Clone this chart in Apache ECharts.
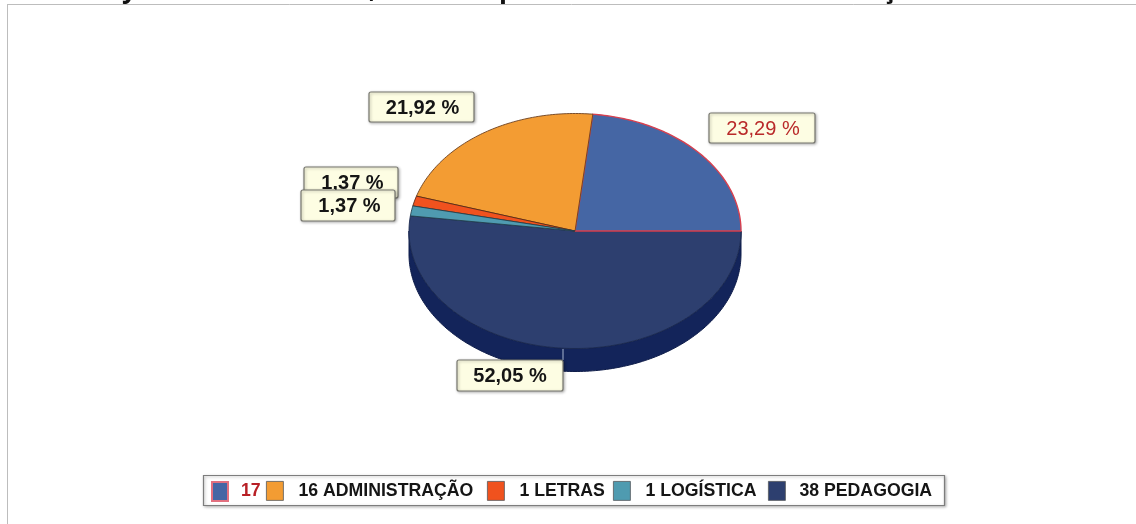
<!DOCTYPE html>
<html><head><meta charset="utf-8">
<style>html,body{margin:0;padding:0;background:#fff}#c{width:1136px;height:524px}</style>
<script src="https://cdn.jsdelivr.net/npm/echarts@6/dist/echarts.min.js"></script>
</head><body><div id="c"></div>
<script>
// Data
const categories = ['17', '16 ADMINISTRAÇÃO', '1 LETRAS', '1 LOGÍSTICA', '38 PEDAGOGIA'];
const counts = [17, 16, 1, 1, 38];
const percentLabels = ['23,29 %', '21,92 %', '1,37 %', '1,37 %', '52,05 %'];
const colors = ['#4566a4', '#f39c33', '#f0521e', '#4f9bb0', '#2d3f6f'];
const edgeColors = ['#d8404f', '#6b4020', '#5a2a15', '#24424f', '#1c2a50'];
const titleTails = ['y', ',', 'p', 'ç'];

// Layout (separate from the data)
const cx = 575, cy = 231, rx = 166, ry = 117.5, depth = 23;
const labelBoxes = [[709,113,106,30],[369,92,105,30],[304,167,94,31],[301,190,94,31],[457,360,106,31]];
const labelShift = [1, 1, 1.5, 1.5, 0];
const legendLefts = [211, 266, 487, 613, 768];
const legendPad = [8, 10, 10, 10, 9];
const tailLefts = [122, 369, 499, 882];
const labelFont = ['400','700','700','700','700'];
const labelColor = ['#b92a2a','#151515','#151515','#151515','#151515'];

const total = counts.reduce((a, b) => a + b, 0);
const pt = (deg, dy) => {
  const r = deg * Math.PI / 180;
  return [cx + rx * Math.cos(r), cy - ry * Math.sin(r) + (dy || 0)];
};
const arcPts = (a0, a1, dy) => {
  const out = [], n = Math.max(2, Math.ceil(Math.abs(a1 - a0)));
  for (let k = 0; k <= n; k++) out.push(pt(a0 + (a1 - a0) * k / n, dy));
  return out;
};

function renderSlice(i) {
  return function (params, api) {
    const before = counts.slice(0, i).reduce((a, b) => a + b, 0);
    const a0 = before / total * 360;
    const a1 = a0 + api.value(0) / total * 360;
    const children = [];
    const s0 = Math.max(a0, 180), s1 = Math.min(a1, 360);
    if (s1 > s0) {
      children.push({ type: 'polygon',
        shape: { points: arcPts(s0, s1, 0).concat(arcPts(s1, s0, depth)) },
        style: { fill: '#13245a', stroke: '#0f1d4a', lineWidth: 1 } });
    }
    children.push({ type: 'polygon',
      shape: { points: [[cx, cy]].concat(arcPts(a0, a1, 0)) },
      style: { fill: colors[i], stroke: edgeColors[i], lineWidth: i === 0 ? 1.4 : 0.9 } });
    const b = labelBoxes[i];
    if (i === 4) {
      children.push({ type: 'line',
        shape: { x1: b[0] + b[2], y1: cy + ry + 0.5, x2: b[0] + b[2], y2: b[1] },
        style: { stroke: '#a9b6cf', lineWidth: 1 } });
    }
    children.push({ type: 'rect',
      shape: { x: b[0], y: b[1], width: b[2], height: b[3], r: 2 },
      style: { fill: '#fdfde3', stroke: '#77776f', lineWidth: 1.2,
               shadowBlur: 3, shadowColor: 'rgba(0,0,0,0.3)', shadowOffsetX: 1, shadowOffsetY: 1 } });
    children.push({ type: 'text',
      style: { text: percentLabels[i], x: b[0] + b[2] / 2 + labelShift[i], y: b[1] + b[3] / 2 + 1,
               align: 'center', verticalAlign: 'middle',
               font: labelFont[i] + ' 20px "Liberation Sans", Arial, sans-serif',
               fill: labelColor[i] } });
    return { type: 'group', children };
  };
}

const series = categories.map((name, i) => ({
  type: 'custom', name, coordinateSystem: 'none',
  z: i === 4 ? 2 : 3 + i,
  itemStyle: { color: colors[i] },
  data: [[counts[i]]],
  silent: true,
  animation: false,
  renderItem: renderSlice(i)
}));

const legends = categories.map((name, i) => ({
  show: true, selectedMode: false, orient: 'horizontal',
  left: legendLefts[i], top: 481, padding: 0, itemGap: 0,
  itemWidth: i === 0 ? 16 : 17, itemHeight: 19, icon: 'rect', z: 5,
  data: [{ name, icon: 'rect',
    itemStyle: i === 0
      ? { color: colors[0], borderColor: '#e2707f', borderWidth: 2 }
      : { color: colors[i], borderColor: '#55585c', borderWidth: 0.8 },
    textStyle: { color: i === 0 ? '#b81f25' : '#151515' } }],
  textStyle: { fontFamily: '"Liberation Sans", Arial, sans-serif', fontWeight: 700, fontSize: 17.7,
               padding: [0, 0, 0, legendPad[i]], color: '#151515' }
}));

const tails = titleTails.map((t, i) => ({
  type: 'text', silent: true, z: 0, x: tailLefts[i], y: 3.5,
  style: { text: t, fill: '#111', font: '700 26px "Open Sans", sans-serif', verticalAlign: 'bottom' }
}));

const chart = echarts.init(document.getElementById('c'), null, { renderer: 'canvas' });
chart.setOption({
  animation: false,
  backgroundColor: '#ffffff',
  legend: legends,
  graphic: [
    { type: 'line', silent: true, z: 0, shape: { x1: 7.5, y1: 4, x2: 7.5, y2: 524 }, style: { stroke: '#bdbdbd', lineWidth: 1 } },
    { type: 'line', silent: true, z: 0, shape: { x1: 7, y1: 4.5, x2: 1136, y2: 4.5 }, style: { stroke: '#bdbdbd', lineWidth: 1 } },
    { type: 'rect', silent: true, z: 1, shape: { x: 203.5, y: 475.5, width: 741, height: 30 },
      style: { fill: '#fff', stroke: '#7d7d7d', lineWidth: 1.2, shadowBlur: 3, shadowColor: 'rgba(0,0,0,0.3)', shadowOffsetX: 1, shadowOffsetY: 1 } }
  ].concat(tails),
  series
});
</script></body></html>
